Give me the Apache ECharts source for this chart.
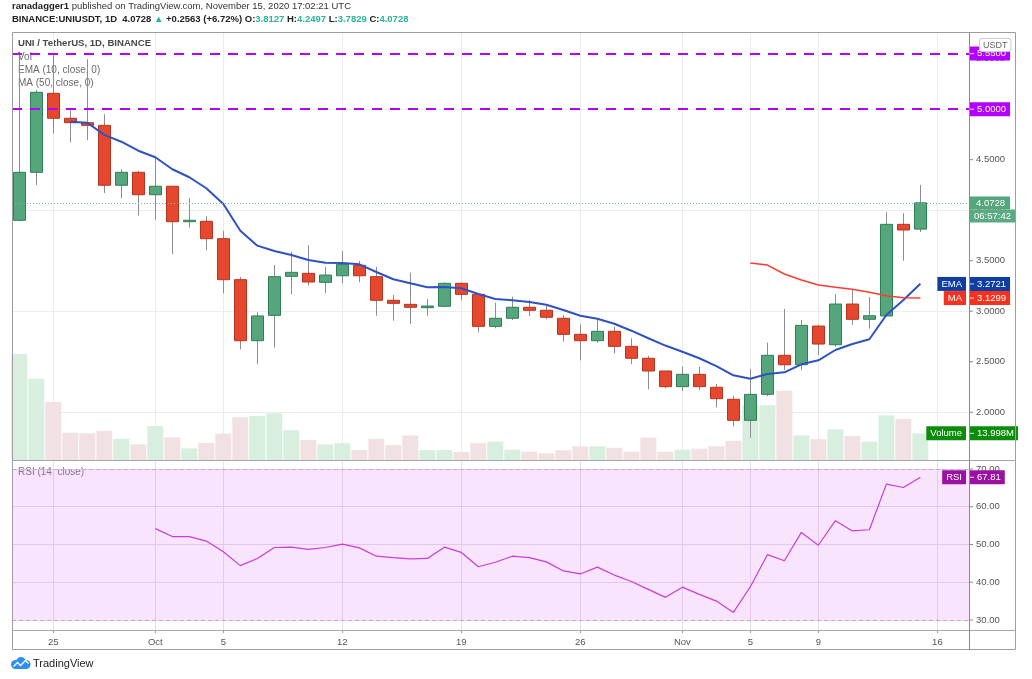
<!DOCTYPE html>
<html><head><meta charset="utf-8">
<script src="https://cdn.jsdelivr.net/npm/echarts@6/dist/echarts.min.js"></script>
<style>html,body{margin:0;padding:0;background:#fff}#c{width:1032px;height:679px}</style>
</head><body><div id="c"></div>
<script>
// ---- data (daily UNI/USDT, Sep 23 - Nov 15 2020) ----
const dates = ['Sep 23','Sep 24','Sep 25','Sep 26','Sep 27','Sep 28','Sep 29','Sep 30',
 'Oct 1','Oct 2','Oct 3','Oct 4','Oct 5','Oct 6','Oct 7','Oct 8','Oct 9','Oct 10','Oct 11','Oct 12','Oct 13','Oct 14','Oct 15','Oct 16','Oct 17','Oct 18','Oct 19','Oct 20','Oct 21','Oct 22','Oct 23','Oct 24','Oct 25','Oct 26','Oct 27','Oct 28','Oct 29','Oct 30','Oct 31',
 'Nov 1','Nov 2','Nov 3','Nov 4','Nov 5','Nov 6','Nov 7','Nov 8','Nov 9','Nov 10','Nov 11','Nov 12','Nov 13','Nov 14','Nov 15'];
const opens  = [3.90,4.375,5.157,4.91,4.866,4.84,4.247,4.375,4.153,4.237,3.886,3.89,3.718,3.312,2.708,2.959,3.345,3.375,3.286,3.351,3.454,3.342,3.108,3.068,3.035,3.049,3.276,3.167,2.85,2.93,3.039,3.009,2.93,2.771,2.708,2.801,2.652,2.534,2.408,2.253,2.375,2.247,2.128,1.92,2.177,2.563,2.47,2.853,2.668,3.071,2.92,2.953,3.86,3.8127];
const closes = [4.375,5.167,4.91,4.866,4.84,4.247,4.375,4.153,4.237,3.886,3.90,3.718,3.312,2.708,2.953,3.342,3.385,3.289,3.358,3.464,3.351,3.108,3.078,3.039,3.051,3.276,3.167,2.85,2.93,3.039,3.009,2.94,2.771,2.708,2.801,2.652,2.534,2.408,2.253,2.375,2.253,2.134,1.92,2.177,2.563,2.47,2.86,2.675,3.071,2.92,2.955,3.86,3.804,4.0728];
const lows   = [3.89,4.25,4.76,4.67,4.695,4.17,4.118,3.946,3.903,3.566,3.827,3.603,3.177,2.623,2.474,2.639,3.167,3.256,3.177,3.276,3.286,2.955,2.906,2.873,2.955,3.039,3.108,2.79,2.831,2.913,2.953,2.92,2.698,2.514,2.688,2.583,2.477,2.227,2.237,2.21,2.22,2.048,1.86,1.748,2.16,2.418,2.418,2.566,2.649,2.866,2.827,2.946,3.5,3.7829];
const highs  = [5.57,5.19,5.553,4.99,5.494,4.95,4.405,4.39,4.524,4.24,4.118,3.94,3.797,3.34,2.989,3.457,3.589,3.652,3.44,3.596,3.497,3.44,3.16,3.381,3.121,3.286,3.286,3.17,3.084,3.144,3.111,3.071,2.962,2.87,2.913,2.847,2.732,2.559,2.41,2.45,2.45,2.279,2.16,2.428,2.688,3.022,2.913,2.866,3.17,3.217,3.141,3.979,3.97,4.2497];
const volumes = [55.6,42.6,30.4,14.3,14.0,15.2,11.0,8.2,17.8,11.9,6.1,8.9,13.8,22.4,23.1,24.5,15.6,10.5,8.2,8.8,5.2,11.0,7.9,12.9,5.2,5.2,4.2,8.8,9.6,5.4,4.4,3.5,5.1,7.2,7.2,6.4,4.4,11.7,4.4,5.4,5.9,7.2,10.1,29.0,28.7,36.3,12.9,10.9,16.1,12.6,9.6,23.4,21.5,13.998];
const emaStart = 3;
const ema10 = [4.876,4.866,4.745,4.678,4.589,4.524,4.405,4.326,4.217,4.061,3.797,3.649,3.596,3.556,3.507,3.480,3.477,3.464,3.388,3.316,3.276,3.237,3.240,3.227,3.170,3.121,3.108,3.091,3.064,3.012,2.955,2.926,2.876,2.807,2.732,2.660,2.599,2.534,2.457,2.365,2.332,2.378,2.395,2.474,2.514,2.616,2.675,2.722,2.962,3.111,3.2721];
const maStart = 43;
const ma50 = [3.477,3.457,3.368,3.309,3.259,3.237,3.217,3.187,3.153,3.134,3.1299];
const rsiStart = 8;
const rsi14 = [54.2,52.1,52.1,50.9,48.1,44.4,46.3,49.2,49.3,48.7,49.2,50.1,49.1,46.9,46.5,46.2,46.3,49.3,47.9,44.1,45.3,46.9,46.5,45.4,43.0,42.2,44.0,41.9,40.2,38.1,36.0,38.7,36.8,35.0,32.0,38.8,47.3,45.7,53.2,49.8,56.3,53.6,53.9,66.0,65.1,67.81];
const xTickIdx = [2,8,12,19,26,33,39,43,47,54];
const xTickLabels = ['25','Oct','5','12','19','26','Nov','5','9','16'];
const priceTicks = [2.0,2.5,3.0,3.5,4.0,4.5,5.0,5.5];
const rsiTicks = [30,40,50,60,70];
const hLevels = [5.55, 5.0];
const lastPrice = 4.0728, lastEma = 3.2721, lastMa = 3.1299, lastVol = 13.998, lastRsi = 67.81;

// ---- styles ----
const UP = '#55a67c', UPB = '#2f7f55', DN = '#e5482f', DNB = '#b5341e';
const VUP = '#d8efe0', VDN = '#f2e1e2';
const FONT = 'Liberation Sans';
const idx = dates.map((d, i) => i);
const bodyData = idx.map(i => [i, opens[i], closes[i], Math.min(opens[i], closes[i]), Math.max(opens[i], closes[i])]);
const fullData = idx.map(i => [i, opens[i], closes[i], lows[i], highs[i]]);
const volData = idx.map(i => [i, volumes[i]]);
const emaData = ema10.map((v, k) => [emaStart + k, v]);
const maData = ma50.map((v, k) => [maStart + k, v]);
const rsiData = rsi14.map((v, k) => [rsiStart + k, v]);

const xMin = -0.43, xMax = 55.86;
function xLabel(v) { const k = xTickIdx.indexOf(Math.round(v)); return k >= 0 ? xTickLabels[k] : ''; }
function valLabel(txt, bg) {
  return { show: true, position: 'end', distance: 1, formatter: '{t|}{v|' + txt + '}', color: '#fff', backgroundColor: bg,
    padding: [2, 4, 2, 0], fontSize: 9.5, fontFamily: FONT,
    rich: { t: { width: 4, height: 1, backgroundColor: 'rgba(255,255,255,0.8)' }, v: { color: '#fff', fontSize: 9.5, fontFamily: FONT, padding: [0, 0, 0, 3] } } };
}
function nameLabel(txt, bg) {
  return { show: true, position: 'insideEnd', distance: 3, formatter: txt, color: '#fff', backgroundColor: bg,
    padding: [2, 4, 2, 4], fontSize: 9.5, fontFamily: FONT };
}
const hidden = { color: 'transparent', width: 0 };
const gridColor = '#ececec';
const axisLabelRich = { t: { width: 4, height: 1, backgroundColor: '#8a8a8a' }, n: { color: '#555', fontSize: 9.5, fontFamily: FONT, padding: [0, 0, 0, 3] } };

const option = {
  animation: false,
  backgroundColor: '#fff',
  grid: [
    { left: 12, right: 63, top: 32, height: 428 },
    { left: 12, right: 63, top: 460, height: 170 }
  ],
  xAxis: [
    { type: 'value', gridIndex: 0, min: xMin, max: xMax,
      axisLine: { show: false }, axisLabel: { show: false, customValues: xTickIdx },
      axisTick: { show: false, customValues: xTickIdx },
      splitLine: { show: true, customValues: xTickIdx, lineStyle: { color: gridColor } } },
    { type: 'value', gridIndex: 1, min: xMin, max: xMax,
      axisLine: { show: false },
      axisLabel: { show: true, customValues: xTickIdx, formatter: xLabel, color: '#555', fontSize: 9.5, fontFamily: FONT, margin: 7 },
      axisTick: { show: true, customValues: xTickIdx, length: 3, lineStyle: { color: '#999' } },
      splitLine: { show: true, customValues: xTickIdx, lineStyle: { color: '#e9dced' } } }
  ],
  yAxis: [
    { type: 'value', gridIndex: 0, position: 'right', min: 1.527, max: 5.764,
      axisLine: { show: false }, axisTick: { show: false },
      axisLabel: { customValues: priceTicks, formatter: v => '{t|}{n|' + v.toFixed(4) + '}', rich: axisLabelRich, margin: 0 },
      splitLine: { show: true, customValues: priceTicks, lineStyle: { color: gridColor } } },
    { type: 'value', gridIndex: 0, position: 'left', min: 0, max: 224.4, show: false,
      axisTick: { show: false }, axisLabel: { show: false }, splitLine: { show: false } },
    { type: 'value', gridIndex: 1, position: 'right', min: 27.35, max: 72.38,
      axisLine: { show: false }, axisTick: { show: false },
      axisLabel: { customValues: rsiTicks, formatter: v => '{t|}{n|' + v.toFixed(2) + '}', rich: axisLabelRich, margin: 0 },
      splitLine: { show: true, customValues: [40, 50, 60], lineStyle: { color: '#e6dbe8' } } }
  ],
  series: [
    { name: 'Volume', type: 'bar', xAxisIndex: 0, yAxisIndex: 1, data: volData, barWidth: 16,
      itemStyle: { color: p => closes[p.dataIndex] >= opens[p.dataIndex] ? VUP : VDN },
      markLine: { symbol: 'none', silent: true, lineStyle: hidden,
        data: [ { yAxis: lastVol, label: valLabel('13.998M', '#0b8d0b') },
                { yAxis: lastVol, label: nameLabel('Volume', '#0b8d0b') } ] } },
    { name: 'wick', type: 'candlestick', xAxisIndex: 0, yAxisIndex: 0, data: fullData, barWidth: 1,
      itemStyle: { color: '#8e8e8e', color0: '#8e8e8e', borderColor: '#8e8e8e', borderColor0: '#8e8e8e', borderWidth: 1 } },
    { name: 'UNI', type: 'candlestick', xAxisIndex: 0, yAxisIndex: 0, data: bodyData, barWidth: 13,
      itemStyle: { color: UP, color0: DN, borderColor: UPB, borderColor0: DNB, borderWidth: 1 },
      markLine: { symbol: 'none', silent: true,
        data: [
          { yAxis: hLevels[0], lineStyle: { color: '#b400ff', width: 2, type: [10, 8] }, label: valLabel(hLevels[0].toFixed(4), '#b400ff') },
          { yAxis: hLevels[1], lineStyle: { color: '#b400ff', width: 2, type: [10, 8] }, label: valLabel(hLevels[1].toFixed(4), '#b400ff') },
          { yAxis: lastPrice, lineStyle: { color: '#77b99f', width: 1, type: [1, 2] },
            label: { show: true, position: 'end', distance: 1, formatter: '{e|}\n{a|4.0728}\n{b|06:57:42}',
              rich: { e: { height: 13, lineHeight: 13 },
                      a: { color: '#fff', backgroundColor: '#55a67c', padding: [2, 5, 1, 6], lineHeight: 13, fontSize: 9.5, fontFamily: FONT },
                      b: { color: '#fff', backgroundColor: '#5aab84', padding: [2, 4, 1, 4], lineHeight: 13, fontSize: 9.5, fontFamily: FONT } } } }
        ] } },
    { name: 'EMA', type: 'line', xAxisIndex: 0, yAxisIndex: 0, data: emaData, symbol: 'none',
      lineStyle: { color: '#2e52c2', width: 2 }, z: 4,
      markLine: { symbol: 'none', silent: true, lineStyle: hidden,
        data: [ { yAxis: lastEma, label: valLabel('3.2721', '#0f3ea3') },
                { yAxis: lastEma, label: nameLabel('EMA', '#0f3ea3') } ] } },
    { name: 'MA', type: 'line', xAxisIndex: 0, yAxisIndex: 0, data: maData, symbol: 'none',
      lineStyle: { color: '#ff3b2f', width: 1.5 }, z: 4,
      markLine: { symbol: 'none', silent: true, lineStyle: hidden,
        data: [ { yAxis: lastMa, label: valLabel('3.1299', '#f5311f') },
                { yAxis: lastMa, label: nameLabel('MA', '#f5311f') } ] } },
    { name: 'RSI', type: 'line', xAxisIndex: 1, yAxisIndex: 2, data: rsiData, symbol: 'none',
      lineStyle: { color: '#cc3bd9', width: 1.2 },
      markArea: { silent: true, itemStyle: { color: 'rgba(215,100,245,0.17)' }, data: [[{ yAxis: 30 }, { yAxis: 70 }]] },
      markLine: { symbol: 'none', silent: true,
        data: [
          { yAxis: 70, lineStyle: { color: '#c8a7cf', width: 1, type: [4, 3] }, label: { show: false } },
          { yAxis: 30, lineStyle: { color: '#c8a7cf', width: 1, type: [4, 3] }, label: { show: false } },
          { yAxis: lastRsi, lineStyle: hidden, label: valLabel('67.81', '#9b12a3') },
          { yAxis: lastRsi, lineStyle: hidden, label: nameLabel('RSI', '#9b12a3') }
        ] } }
  ],
  graphic: [
    { type: 'rect', z: 100, silent: true, shape: { x: 12.5, y: 32.5, width: 1003, height: 617 }, style: { fill: 'none', stroke: '#9e9e9e', lineWidth: 1 } },
    { type: 'line', z: 100, silent: true, shape: { x1: 12, y1: 460.5, x2: 1016, y2: 460.5 }, style: { stroke: '#a8a8a8', lineWidth: 1 } },
    { type: 'line', z: 100, silent: true, shape: { x1: 12, y1: 630.5, x2: 1016, y2: 630.5 }, style: { stroke: '#a8a8a8', lineWidth: 1 } },
    { type: 'line', z: 100, silent: true, shape: { x1: 969.5, y1: 32, x2: 969.5, y2: 650 }, style: { stroke: '#8a8a8a', lineWidth: 1 } },
    { type: 'text', left: 12, top: 1, silent: true, style: { text: '{b|ranadagger1} published on TradingView.com, November 15, 2020 17:02:21 UTC',
        rich: { b: { fill: '#222', font: 'bold 9.5px ' + FONT } }, fill: '#333', font: '9.5px ' + FONT } },
    { type: 'text', left: 12, top: 14, silent: true, style: {
        text: '{b|BINANCE:UNIUSDT, 1D}  {b|4.0728} {t|▲} {b|+0.2563 (+6.72%)} {b|O:}{t|3.8127} {b|H:}{t|4.2497} {b|L:}{t|3.7829} {b|C:}{t|4.0728}',
        rich: { b: { fill: '#222', font: 'bold 9.5px ' + FONT }, t: { fill: '#2bb39b', font: 'bold 9.5px ' + FONT } }, font: '9.5px ' + FONT } },
    { type: 'text', left: 18, top: 38, silent: true, style: { text: 'UNI / TetherUS, 1D, BINANCE', fill: '#4a4a4a', font: 'bold 9.6px ' + FONT } },
    { type: 'text', left: 18, top: 52, silent: true, style: { text: 'Vol', fill: '#6a6a6a', font: '10px ' + FONT } },
    { type: 'text', left: 18, top: 65, silent: true, style: { text: 'EMA (10, close, 0)', fill: '#6a6a6a', font: '10px ' + FONT } },
    { type: 'text', left: 18, top: 78, silent: true, style: { text: 'MA (50, close, 0)', fill: '#6a6a6a', font: '10px ' + FONT } },
    { type: 'text', left: 18, top: 467, silent: true, style: { text: 'RSI (14, close)', fill: '#777', font: '10px ' + FONT } },
    { type: 'text', left: 979, top: 38, silent: true, z: 101, style: { text: 'USDT', fill: '#666', font: '9px ' + FONT, backgroundColor: '#fff', borderColor: '#ccc', borderWidth: 1, borderRadius: 2, padding: [2, 3, 1, 3] } },
    { type: 'group', left: 11, top: 657, silent: true, children: [
        { type: 'circle', shape: { cx: 5, cy: 8, r: 4.5 }, style: { fill: '#2f8ef0' } },
        { type: 'circle', shape: { cx: 10.5, cy: 5.5, r: 5 }, style: { fill: '#2f8ef0' } },
        { type: 'circle', shape: { cx: 15.5, cy: 8, r: 4.5 }, style: { fill: '#2f8ef0' } },
        { type: 'rect', shape: { x: 4, y: 7, width: 12, height: 5.5 }, style: { fill: '#2f8ef0' } },
        { type: 'polyline', shape: { points: [[3, 10], [7, 6], [10, 9], [15, 4], [18, 7]] }, style: { stroke: '#fff', lineWidth: 1.3, fill: 'none' } }
    ] },
    { type: 'text', left: 33, top: 658, silent: true, style: { text: 'TradingView', fill: '#222', font: '11px ' + FONT } }
  ]
};
const chart = echarts.init(document.getElementById('c'));
chart.setOption(option);
</script></body></html>
